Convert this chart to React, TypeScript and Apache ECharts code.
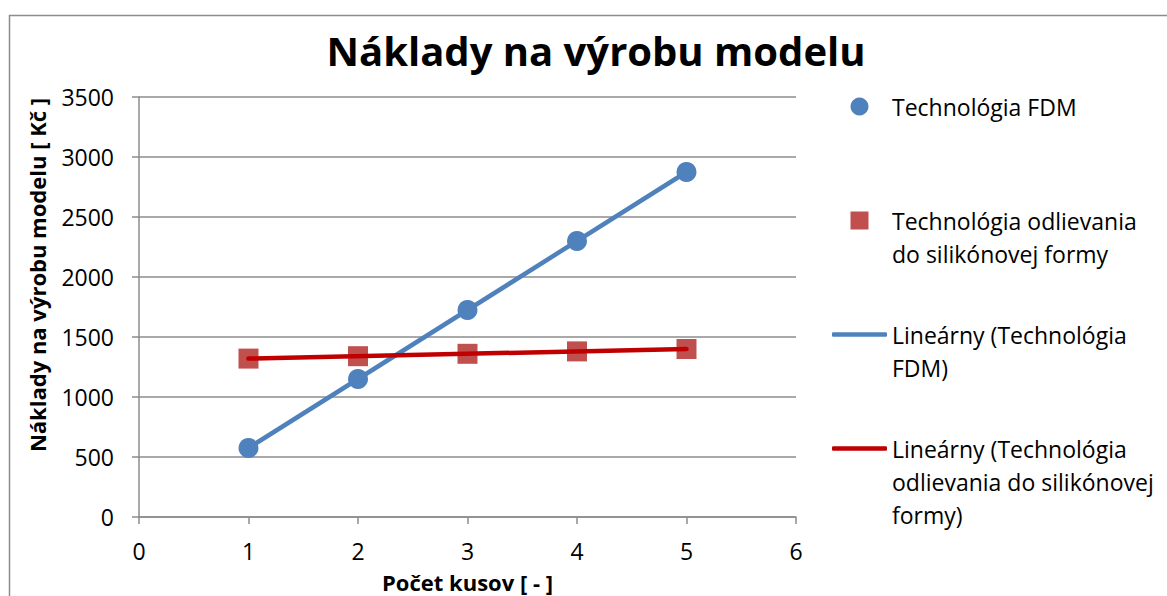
import { useEffect, useRef } from 'react';
import * as echarts from 'echarts';

const TITLE = 'Náklady na výrobu modelu';
const X_NAME = 'Počet kusov [ - ]';
const Y_NAME = 'Náklady na výrobu modelu [ Kč ]';

const pieces = [1, 2, 3, 4, 5];
const fdmCost = [575, 1150, 1725, 2300, 2875];
const castCost = [1320, 1340, 1360, 1380, 1400];

const seriesNames = [
  'Technológia FDM',
  'Technológia odlievania do silikónovej formy',
  'Lineárny (Technológia FDM)',
  'Lineárny (Technológia odlievania do silikónovej formy)',
];
const legendLines = [
  ['Technológia FDM'],
  ['Technológia odlievania', 'do silikónovej formy'],
  ['Lineárny (Technológia', 'FDM)'],
  ['Lineárny (Technológia', 'odlievania do silikónovej', 'formy)'],
];

const FONT = '"Open Sans", "Noto Sans", sans-serif';
const BLUE = '#4F81BD';
const RED_MARK = '#C0504D';
const RED_LINE = '#C00000';
const GRAY = '#8c8c8c';

function linearTrend(xs: number[], ys: number[]): number[][] {
  const n = xs.length;
  const mx = xs.reduce((a, b) => a + b, 0) / n;
  const my = ys.reduce((a, b) => a + b, 0) / n;
  let sxy = 0;
  let sxx = 0;
  for (let i = 0; i < n; i++) {
    sxy += (xs[i] - mx) * (ys[i] - my);
    sxx += (xs[i] - mx) * (xs[i] - mx);
  }
  const b = sxy / sxx;
  const a = my - b * mx;
  const x0 = Math.min(...xs);
  const x1 = Math.max(...xs);
  return [
    [x0, a + b * x0],
    [x1, a + b * x1],
  ];
}

export default function App() {
  const ref = useRef<HTMLDivElement>(null);

  useEffect(() => {
    if (!ref.current) return;
    const chart = echarts.init(ref.current, undefined, { renderer: 'svg' });

    const legendCenters = [108, 222, 336, 450];
    const legendIcons = [
      'circle',
      'path://M0,0L10,0L10,10L0,10Z',
      'roundRect',
      'roundRect',
    ];
    const LH = 33;

    const option: any = {
      animation: false,
      backgroundColor: '#ffffff',
      title: {
        text: TITLE,
        left: 596,
        top: 30,
        padding: 0,
        textAlign: 'center',
        textStyle: { fontFamily: FONT, fontSize: 40, fontWeight: 'bold', color: '#000' },
      },
      grid: { left: 139, right: 371, top: 97, bottom: 79, outerBoundsMode: 'none' },
      xAxis: {
        type: 'value',
        min: 0,
        max: 6,
        interval: 1,
        name: X_NAME,
        nameLocation: 'middle',
        nameGap: 54,
        nameTextStyle: { fontFamily: FONT, fontSize: 22, fontWeight: 'bold', color: '#000' },
        axisLine: { show: true, lineStyle: { color: GRAY, width: 1.5 } },
        axisTick: { show: true, length: 7, lineStyle: { color: GRAY, width: 1.5 } },
        splitLine: { show: false },
        axisLabel: { fontFamily: FONT, fontSize: 23, color: '#000', margin: 22 },
      },
      yAxis: {
        type: 'value',
        min: 0,
        max: 3500,
        interval: 500,
        axisLine: { show: true, lineStyle: { color: GRAY, width: 1.5 } },
        axisTick: { show: true, length: 7, lineStyle: { color: GRAY, width: 1.5 } },
        splitLine: { show: true, lineStyle: { color: GRAY, width: 1.5 } },
        axisLabel: {
          fontFamily: FONT,
          fontSize: 23,
          color: '#000',
          margin: 25,
          formatter: (v: number) => String(v),
        },
      },
      legend: seriesNames.map((name, i) => {
        const n = legendLines[i].length;
        const isLine = i >= 2;
        return {
          data: [name],
          orient: 'vertical',
          left: isLine ? 832 : 850.5,
          top: legendCenters[i] - (2 * n - 1) * (LH / 2) - 1.5,
          padding: 0,
          icon: legendIcons[i],
          itemWidth: 55,
          itemHeight: isLine ? 4.5 : 18,
          itemGap: 0,
          selectedMode: false,
          formatter: () => '\n'.repeat(n - 1) + legendLines[i].join('\n'),
          textStyle: {
            fontFamily: FONT,
            fontSize: 23,
            color: '#000',
            lineHeight: LH,
          },
        };
      }),
      graphic: [
        {
          type: 'rect',
          shape: { x: 9.5, y: 15.5, width: 1300, height: 800 },
          style: { fill: 'none', stroke: GRAY, lineWidth: 1.5 },
          silent: true,
          z: -10,
        },
        {
          type: 'text',
          x: 37,
          y: 275,
          rotation: Math.PI / 2,
          style: {
            text: Y_NAME,
            fontFamily: FONT,
            fontSize: 22,
            fontWeight: 'bold',
            fill: '#000',
            align: 'center',
            verticalAlign: 'middle',
            textAlign: 'center',
            textVerticalAlign: 'middle',
          },
        },
      ],
      series: [
        {
          name: seriesNames[0],
          type: 'scatter',
          symbol: 'circle',
          symbolSize: 20,
          itemStyle: { color: BLUE, opacity: 1 },
          data: pieces.map((x, i) => [x, fdmCost[i]]),
          z: 2,
        },
        {
          name: seriesNames[1],
          type: 'scatter',
          symbol: 'rect',
          symbolSize: 20,
          itemStyle: { color: RED_MARK, opacity: 1 },
          data: pieces.map((x, i) => [x, castCost[i]]),
          z: 2,
        },
        {
          name: seriesNames[2],
          type: 'line',
          symbol: 'none',
          color: BLUE,
          lineStyle: { color: BLUE, width: 4.5, cap: 'round' },
          itemStyle: { color: BLUE },
          data: linearTrend(pieces, fdmCost),
          z: 3,
        },
        {
          name: seriesNames[3],
          type: 'line',
          symbol: 'none',
          color: RED_LINE,
          lineStyle: { color: RED_LINE, width: 4.5, cap: 'round' },
          itemStyle: { color: RED_LINE },
          data: linearTrend(pieces, castCost),
          z: 4,
        },
      ],
    };

    chart.setOption(option);
    return () => chart.dispose();
  }, []);

  return (
    <div
      ref={ref}
      style={{ position: 'absolute', left: 0, top: 0, width: 1167, height: 596 }}
    />
  );
}
